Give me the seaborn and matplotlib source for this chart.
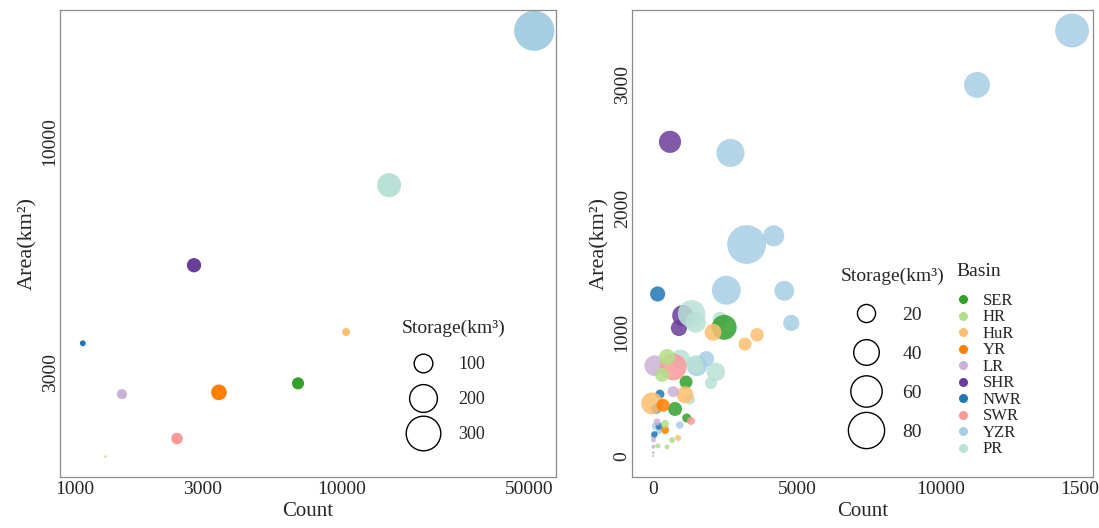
import seaborn as sns
import numpy as np
import pandas as pd
import matplotlib.pyplot as plt
from matplotlib.lines import Line2D
from matplotlib.ticker import FixedLocator, NullLocator

sns.set_theme(style="white")
plt.rcParams['font.family'] = ['Liberation Serif', 'DejaVu Serif']

basins = ["SER", "HR", "HuR", "YR", "LR", "SHR", "NWR", "SWR", "YZR", "PR"]
colors = ["#33a02c", "#b2df8a", "#fdbf6f", "#ff7f00", "#cab2d6",
          "#6a3d9a", "#1f78b4", "#fb9a99", "#a6cee3", "#b9e1d6"]
pal = dict(zip(basins, colors))

# left panel: basin totals
basin_l = ["YZR", "PR", "SHR", "HuR", "NWR", "SER", "LR", "YR", "SWR", "HR"]
count_l = [52400, 15000, 2790, 10350, 1070, 6840, 1500, 3460, 2410, 1300]
area_l = [17900, 7980, 5250, 3700, 3490, 2830, 2675, 2700, 2120, 1930]
storage_l = [400, 154, 66, 33, 26, 52, 42, 76, 49, 19]

# right panel: individual reservoirs
basin_r = (["YZR"] * 14 + ["SHR"] * 3 + ["NWR"] * 5 + ["PR"] * 8 + ["SER"] * 4
           + ["HuR"] * 6 + ["YR"] * 2 + ["LR"] * 7 + ["SWR"] * 2 + ["HR"] * 6)
count_r = [14550, 11250, 2690, 3250, 4190, 2545, 4560, 4800, 1850, 1520, 930, 80, 20, 200,
           590, 1030, 900,
           160, 240, 110, 210, 50,
           1340, 1480, 2330, 950, 1460, 2180, 2010, 1285,
           2470, 1146, 764, 1169,
           2083, 3611, 3194, 1111, -30, 868,
           347, 417,
           60, 700, 139, 17, 17, 10, 0,
           700, 1319,
           486, 312, 417, 660, 486, 174]
area_r = [3440, 3000, 2450, 1710, 1780, 1340, 1335, 1075, 785, 730, 250, 240, 160, 200,
          2540, 1135, 1035,
          1310, 500, 380, 240, 175,
          1150, 1080, 1105, 780, 740, 680, 590, 455,
          1040, 598, 380, 307,
          1000, 980, 905, 495, 425, 146,
          410, 210,
          730, 520, 275, 129, 75, 25, 0,
          720, 283,
          800, 655, 259, 129, 73, 81]
storage_r = [70, 41, 48, 92, 27, 51, 24, 16, 15, 26, 3.5, 3, 2.2, 2,
             30, 27, 16,
             14, 5, 6, 3, 2.5,
             46, 26, 14, 24, 18, 21, 9, 6,
             38, 10.3, 12, 5,
             17.6, 11, 10.3, 17.6, 29.5, 2.2,
             10.3, 3.9,
             26, 7.4, 3, 1.5, 1, 0.5, 0.3,
             44, 3.9,
             15.6, 12, 3.9, 2.2, 1.5, 1.5]

left_ticks_x = [1000, 3000, 10000, 50000]
left_ticks_y = [3000, 10000]
right_ticks_x = [0, 5000, 10000, 15000]
right_ticks_y = [0, 1000, 2000, 3000]
size_keys_l = [100, 200, 300]
size_keys_r = [20, 40, 60, 80]

df_l = pd.DataFrame({"Basin": basin_l, "Count": count_l, "Area": area_l, "Storage": storage_l})
df_r = pd.DataFrame({"Basin": basin_r, "Count": count_r, "Area": area_r, "Storage": storage_r})

norm_l, sizes_l = (18, 400), (0.5, 840)
norm_r, sizes_r = (0, 100), (0, 850)


def msize(v, norm, sizes):
    s = sizes[0] + (v - norm[0]) / (norm[1] - norm[0]) * (sizes[1] - sizes[0])
    return np.sqrt(s)


fig = plt.figure(figsize=(10.99, 5.28), dpi=100)
ax1 = fig.add_axes([0.0546, 0.0966, 0.4513, 0.8845])
ax2 = fig.add_axes([0.5751, 0.0966, 0.4195, 0.8845])

sns.scatterplot(data=df_l, x="Count", y="Area", hue="Basin", palette=pal,
                size="Storage", sizes=sizes_l, size_norm=norm_l,
                linewidth=0, alpha=1, legend=False, ax=ax1)
ax1.set_xscale("log")
ax1.set_yscale("log")
ax1.set_xlim(879, 63200)
ax1.set_ylim(1734, 19950)

sns.scatterplot(data=df_r, x="Count", y="Area", hue="Basin", palette=pal,
                size="Storage", sizes=sizes_r, size_norm=norm_r,
                linewidth=0, alpha=0.85, legend=False, ax=ax2)
ax2.set_xlim(-729, 15280)
ax2.set_ylim(-170, 3606)

for ax, xt, yt in [(ax1, left_ticks_x, left_ticks_y), (ax2, right_ticks_x, right_ticks_y)]:
    ax.xaxis.set_major_locator(FixedLocator(xt))
    ax.yaxis.set_major_locator(FixedLocator(yt))
    ax.xaxis.set_minor_locator(NullLocator())
    ax.yaxis.set_minor_locator(NullLocator())
    ax.set_xticklabels([str(t) for t in xt], fontsize=14)
    ax.set_yticklabels([str(t) for t in yt], fontsize=14, rotation=90, va="center")
    ax.tick_params(length=0, pad=3)
    ax.tick_params(axis="y", pad=1)
    ax.set_xlabel("Count", fontsize=15, labelpad=3)
    ax.set_ylabel("Area(km²)", fontsize=16, labelpad=3)
    for sp in ax.spines.values():
        sp.set_color("#8c8c8c")
        sp.set_linewidth(0.9)

# size legend, left panel
h_l = [Line2D([], [], ls="", marker="o", markerfacecolor="none", markeredgecolor="black",
              markeredgewidth=1.0, markersize=msize(v, norm_l, sizes_l)) for v in size_keys_l]
leg1 = ax1.legend(h_l, [str(v) for v in size_keys_l], title="Storage(km³)", frameon=False,
                  loc="upper left", bbox_to_anchor=(0.67, 0.357), fontsize=13,
                  title_fontsize=14, labelspacing=1.0, handlelength=2.4,
                  handletextpad=0.75, borderpad=0)
leg1._legend_box.align = "left"
leg1._legend_box.sep = 14

# size legend, right panel
h_r = [Line2D([], [], ls="", marker="o", markerfacecolor="none", markeredgecolor="black",
              markeredgewidth=1.0, markersize=msize(v, norm_r, sizes_r)) for v in size_keys_r]
leg2 = ax2.legend(h_r, [str(v) for v in size_keys_r], title="Storage(km³)", frameon=False,
                  loc="upper left", bbox_to_anchor=(0.432, 0.47), fontsize=14,
                  title_fontsize=14, labelspacing=1.1, handlelength=2.55,
                  handletextpad=0.6, borderpad=0)
leg2._legend_box.align = "left"
ax2.add_artist(leg2)

# basin legend, right panel
h_b = [Line2D([], [], ls="", marker="o", markerfacecolor=pal[b], markeredgecolor="none",
              markersize=6.5) for b in basins]
leg3 = ax2.legend(h_b, basins, title="Basin", frameon=False, loc="upper left",
                  bbox_to_anchor=(0.686, 0.475), fontsize=12, title_fontsize=14,
                  labelspacing=0.03, handletextpad=0.75, handlelength=0.8, borderpad=0)
leg3._legend_box.align = "left"
leg3._legend_box.sep = 9

fig.savefig("out.png", dpi=100)
